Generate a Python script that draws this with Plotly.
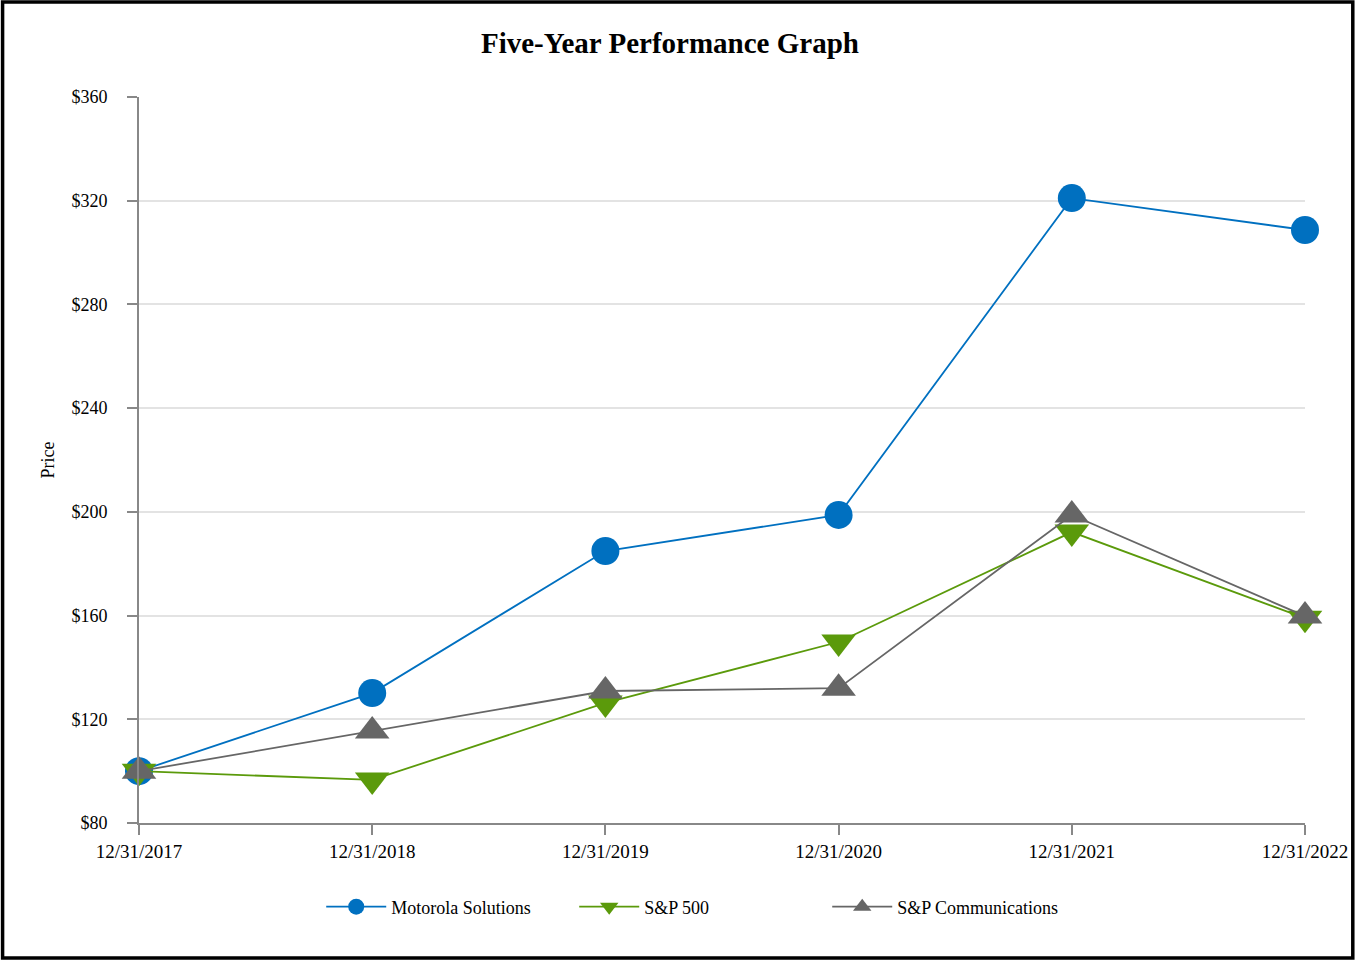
import plotly.graph_objects as go

dates = ["12/31/2017", "12/31/2018", "12/31/2019", "12/31/2020", "12/31/2021", "12/31/2022"]
motorola = [100, 130.1, 184.9, 198.8, 321.0, 308.7]
sp500 = [100, 96.6, 126.3, 149.8, 192.2, 159.0]
sp_comm = [100, 115.5, 130.9, 132.0, 198.8, 159.8]
y_ticks = [80, 120, 160, 200, 240, 280, 320, 360]
y_labels = ["$" + str(v) for v in y_ticks]

FONT = "Liberation Serif, Times New Roman, serif"

fig = go.Figure()
fig.add_trace(go.Scatter(x=dates, y=motorola, name="Motorola Solutions", mode="lines+markers",
                         line=dict(color="#0070C0", width=1.8),
                         marker=dict(symbol="circle", size=28, color="#0070C0"), cliponaxis=False))
fig.add_trace(go.Scatter(x=dates, y=sp500, name="S&P 500", mode="lines+markers",
                         line=dict(color="#5B9A0B", width=1.8),
                         marker=dict(symbol="triangle-down", size=30, color="#5B9A0B"), cliponaxis=False))
fig.add_trace(go.Scatter(x=dates, y=sp_comm, name="S&P Communications", mode="lines+markers",
                         line=dict(color="#666666", width=1.8),
                         marker=dict(symbol="triangle-up", size=30, color="#666666"), cliponaxis=False))

L, R, T, B = 139, 50, 97, 137
W, H = 1360, 960
pw, ph = W - L - R, H - T - B

fig.update_layout(
    width=W, height=H,
    margin=dict(l=L, r=R, t=T, b=B),
    paper_bgcolor="white", plot_bgcolor="white",
    font=dict(family=FONT, size=18, color="black"),
    title=dict(text="<b>Five-Year Performance Graph</b>", x=0.4926, xanchor="center",
               y=1 - 43 / H, yanchor="middle", font=dict(size=29, family=FONT)),
    xaxis=dict(type="category", range=[0, 5], showgrid=False, showline=True,
               linecolor="#888888", linewidth=2, ticks="outside", ticklen=10,
               tickcolor="#888888", tickwidth=2, tickfont=dict(size=19)),
    yaxis=dict(range=[80, 360], tickvals=y_ticks, ticktext=y_labels, showgrid=True,
               gridcolor="#e3e3e3", gridwidth=2, showline=True, linecolor="#888888",
               linewidth=2, ticks="outside", ticklen=10, tickcolor="#888888", tickwidth=2,
               zeroline=False, tickfont=dict(size=18), ticklabelstandoff=16,
               title=dict(text="Price", font=dict(size=18), standoff=12)),
    legend=dict(orientation="h", x=(322 - L) / pw, xanchor="left", y=(823 - 907) / ph,
                yanchor="middle", font=dict(size=18), itemwidth=60,
                entrywidth=178, entrywidthmode="pixels",
                traceorder="normal"),
    showlegend=True,
)

fig.add_shape(type="rect", xref="paper", yref="paper",
              x0=(2 - L) / pw, x1=(W - 2 - L) / pw,
              y0=(T + ph - (H - 2)) / ph, y1=(T + ph - 2) / ph,
              line=dict(color="black", width=3.5), fillcolor="rgba(0,0,0,0)", layer="above")

fig.write_html("out.html", config={"displayModeBar": False},
               post_script="document.body.style.margin='0';document.body.style.overflow='hidden';")
